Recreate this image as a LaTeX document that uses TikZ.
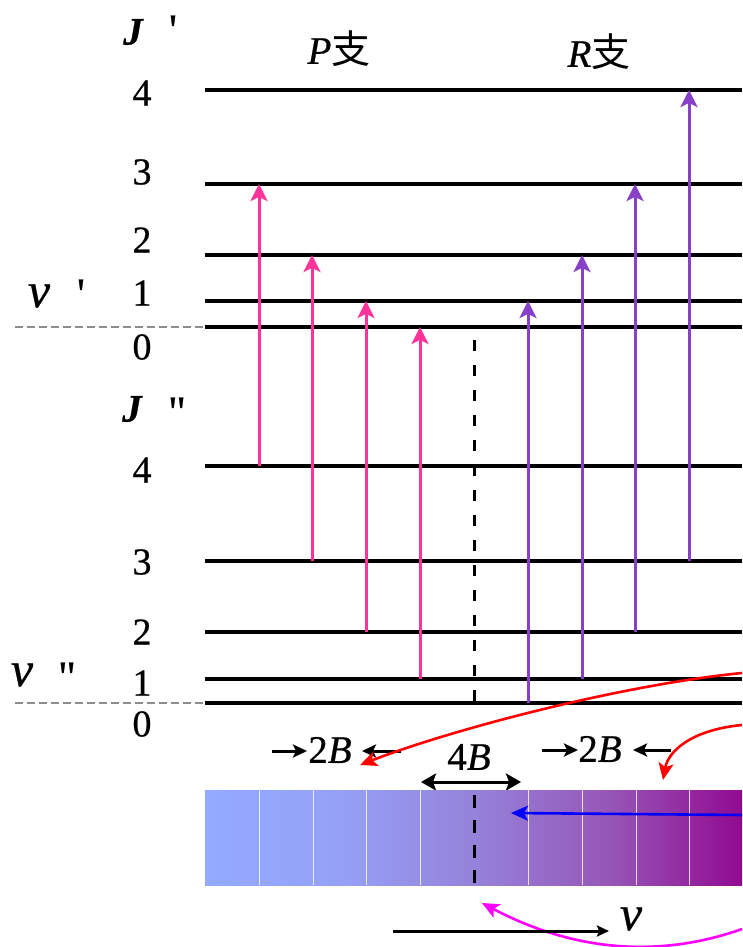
\documentclass[tikz,border=0pt]{standalone}
\usepackage{fontspec}
\setmainfont{Liberation Serif}[FakeBold=0.6]
\newfontfamily\rawserif{Liberation Serif}[FakeBold=0.6]
\newfontfamily\cjk{Noto Sans CJK SC}
\usetikzlibrary{arrows.meta}
\definecolor{pinkarr}{RGB}{255,51,153}
\definecolor{purparr}{RGB}{136,64,200}
\definecolor{refgray}{RGB}{140,140,140}
\definecolor{brightmag}{RGB}{255,0,255}
\definecolor{brightred}{RGB}{255,0,0}
\definecolor{brightblue}{RGB}{0,0,255}
\pgfdeclarehorizontalshading{specshade}{100bp}{%
  rgb(0bp)=(0.576,0.667,1.0);
  rgb(25bp)=(0.576,0.667,1.0);
  rgb(37.5bp)=(0.585,0.63,0.965);
  rgb(50bp)=(0.584,0.51,0.855);
  rgb(62.5bp)=(0.59,0.34,0.72);
  rgb(75bp)=(0.57,0.04,0.57);
  rgb(100bp)=(0.57,0.04,0.57)}
\begin{document}
\begin{tikzpicture}[x=1pt,y=-1pt,
  levelline/.style={line width=3.2pt},
  num/.style={font=\fontsize{38}{42}\selectfont, inner sep=0pt},
  lab/.style={font=\fontsize{39}{44}\selectfont, inner sep=0pt},
  primelab/.style={font=\rawserif\fontsize{44}{48}\selectfont, inner sep=0pt},
  greeklab/.style={font=\fontsize{50}{54}\selectfont\itshape, inner sep=0pt},
  ptrans/.style={draw=pinkarr, line width=3pt, -{Stealth[length=17pt,width=17pt,inset=4pt]}},
  rtrans/.style={draw=purparr, line width=3pt, -{Stealth[length=17pt,width=17pt,inset=4pt]}},
  gapline/.style={line width=3pt, -{Stealth[length=14pt,width=13pt,inset=3pt]}},
  gapboth/.style={line width=3pt, {Stealth[length=15pt,width=17pt,inset=3pt]}-{Stealth[length=15pt,width=17pt,inset=3pt]}},
  zeroline/.style={refgray, line width=2pt, dash pattern=on 8pt off 4pt},
  centerdash/.style={line width=3pt, dash pattern=on 11pt off 14pt},
  specdash/.style={line width=3pt, dash pattern=on 13pt off 12pt},
  pointer/.style={line width=2.6pt, -{Stealth[length=17pt,width=15pt,inset=4pt]}},
]
\useasboundingbox (0,0) rectangle (742,947);

% ---- level lines ----
\foreach \n/\y in {u4/90,u3/184,u2/255,u1/301,u0/327,l4/466,l3/561,l2/632,l1/679,l0/703}{
  \coordinate (\n L) at (205,\y);
  \coordinate (\n R) at (742,\y);
  \draw[levelline] (\n L) -- (\n R);
}
% vibrational zero dashed lines
\coordinate (vz1) at (15,327);
\coordinate (vz2) at (15,703);
\draw[zeroline] (vz1) -- (u0L);
\draw[zeroline] (vz2) -- (l0L);

% ---- labels ----
\node[lab] (Jup) at (133,32) {\bfseries\itshape J};
\node[primelab] (Jupp) at (173,30) {'};
\node[lab] (Pbr) at (339,49) {\itshape P\cjk 支};
\node[lab] (Rbr) at (599,52) {\itshape R\cjk 支};
\node[num] (nu4) at (142,93) {4};
\node[num] (nu3) at (142,172) {3};
\node[num] (nu2) at (142,240) {2};
\node[num] (nu1) at (142,293) {1};
\node[num] (nu0) at (142,347) {0};
\node[greeklab] (vup) at (39,296) {ν};
\node[primelab] (vupp) at (81,294) {'};
\node[lab] (Jlo) at (132,409) {\bfseries\itshape J};
\node[primelab] (Jlop) at (177,412) {"};
\node[num] (nl4) at (142,470) {4};
\node[num] (nl3) at (142,562) {3};
\node[num] (nl2) at (142,632) {2};
\node[num] (nl1) at (142,683) {1};
\node[num] (nl0) at (142,724) {0};
\node[greeklab] (vlo) at (22,675) {ν};
\node[primelab] (vlop) at (67,677) {"};

% ---- P branch ----
\foreach \i/\x/\ya/\yb in {1/259/466/184,2/312/561/255,3/366/632/301,4/420/679/327}{
  \coordinate (ps\i) at (\x,\ya);
  \coordinate (pe\i) at (\x,\yb);
  \draw[ptrans] (ps\i) -- (pe\i);
}
% ---- R branch ----
\foreach \i/\x/\ya/\yb in {1/528/703/301,2/582/679/255,3/635/632/184,4/689/561/90}{
  \coordinate (rs\i) at (\x,\ya);
  \coordinate (re\i) at (\x,\yb);
  \draw[rtrans] (rs\i) -- (re\i);
}
% band origin dashed
\coordinate (c0a) at (474,340);
\coordinate (c0b) at (474,703);
\draw[centerdash] (c0a) -- (c0b);

% ---- spacing labels ----
\node[lab] (twoBl) at (330,750) {2\itshape B};
\coordinate (a1s) at (272,751);
\coordinate (a1e) at (307,751);
\coordinate (a2s) at (401,751);
\coordinate (a2e) at (362,751);
\draw[gapline] (a1s) -- (a1e);
\draw[gapline] (a2s) -- (a2e);
\node[lab] (twoBr) at (600,749) {2\itshape B};
\coordinate (a3s) at (542,750);
\coordinate (a3e) at (578,750);
\coordinate (a4s) at (671,750);
\coordinate (a4e) at (633,750);
\draw[gapline] (a3s) -- (a3e);
\draw[gapline] (a4s) -- (a4e);
\node[lab] (fourB) at (469,757) {4\itshape B};
\coordinate (d1) at (421,782);
\coordinate (d2) at (521,782);
\draw[gapboth] (d1) -- (d2);

% ---- spectrum band ----
\shade[shading=specshade] (205,790) rectangle (742,885);
\foreach \x in {259,313,366,420,528,582,636,689}{
  \draw[white, line width=1pt, opacity=0.8] (\x,790) -- (\x,885);
}
\coordinate (s0a) at (474,795);
\coordinate (s0b) at (474,885);
\draw[specdash] (s0a) -- (s0b);

% ---- pointers from right edge ----
\coordinate (bl0) at (742,815);
\coordinate (bl1) at (511,813);
\draw[pointer, brightblue] (bl0) -- (bl1);
\coordinate (rd0) at (742,673);
\coordinate (rd1) at (360,765);
\draw[pointer, brightred] (rd0) .. controls (620,685) and (450,730) .. (rd1);
\coordinate (rr0) at (742,725);
\coordinate (rr1) at (663,780);
\draw[pointer, brightred] (rr0) .. controls (690,730) and (668,752) .. (rr1);
\coordinate (mg0) at (742,929);
\coordinate (mg1) at (482,903);
\draw[pointer, brightmag] (mg0) .. controls (660,958) and (575,952) .. (mg1);

% ---- frequency axis ----
\coordinate (nua) at (393,931);
\coordinate (nub) at (609,931);
\draw[line width=3pt, -{Stealth[length=12pt,width=11pt,inset=2pt]}] (nua) -- (nub);
\node[greeklab] (nulab) at (631,919) {ν};
\end{tikzpicture}
\end{document}
